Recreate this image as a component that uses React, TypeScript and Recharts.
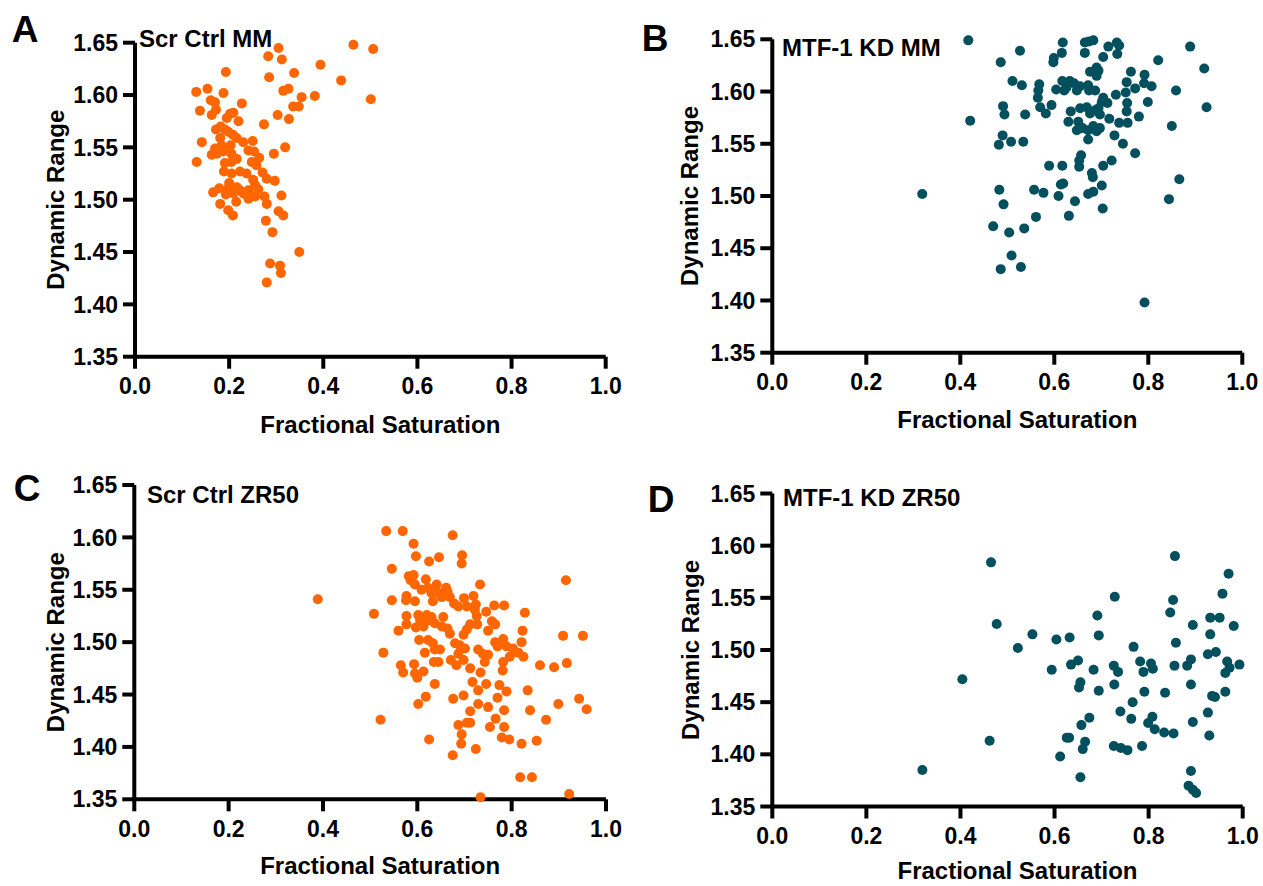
import React from "react";
import { ScatterChart, Scatter, XAxis, YAxis, Label } from "recharts";

// fractional saturation vs dynamic range
const scrCtrlMM: [number, number][] = [
  [0.305, 1.645], [0.283, 1.637], [0.312, 1.634], [0.464, 1.648], [0.506, 1.644], [0.394, 1.629],
  [0.338, 1.621], [0.193, 1.622], [0.285, 1.617], [0.438, 1.614], [0.501, 1.596], [0.13, 1.603],
  [0.154, 1.606], [0.188, 1.602], [0.315, 1.604], [0.326, 1.606], [0.382, 1.599], [0.354, 1.598],
  [0.336, 1.589], [0.348, 1.589], [0.161, 1.595], [0.17, 1.593], [0.138, 1.585], [0.227, 1.592],
  [0.172, 1.586], [0.163, 1.581], [0.202, 1.582], [0.209, 1.583], [0.195, 1.578], [0.22, 1.575],
  [0.303, 1.581], [0.327, 1.577], [0.274, 1.572], [0.172, 1.567], [0.182, 1.57], [0.191, 1.567],
  [0.181, 1.559], [0.198, 1.565], [0.208, 1.562], [0.216, 1.559], [0.142, 1.555], [0.17, 1.549],
  [0.184, 1.552], [0.203, 1.552], [0.23, 1.555], [0.25, 1.556], [0.163, 1.543], [0.174, 1.544],
  [0.188, 1.546], [0.205, 1.544], [0.216, 1.539], [0.241, 1.547], [0.253, 1.546], [0.264, 1.54],
  [0.131, 1.536], [0.191, 1.535], [0.205, 1.536], [0.248, 1.536], [0.258, 1.533], [0.189, 1.527],
  [0.205, 1.525], [0.223, 1.527], [0.237, 1.525], [0.271, 1.526], [0.28, 1.52], [0.297, 1.518],
  [0.251, 1.519], [0.255, 1.514], [0.262, 1.51], [0.2, 1.516], [0.216, 1.512], [0.223, 1.509],
  [0.23, 1.506], [0.241, 1.509], [0.179, 1.511], [0.198, 1.511], [0.166, 1.507], [0.193, 1.505],
  [0.209, 1.506], [0.215, 1.498], [0.241, 1.501], [0.255, 1.503], [0.275, 1.503], [0.28, 1.496],
  [0.311, 1.504], [0.181, 1.496], [0.198, 1.49], [0.208, 1.485], [0.305, 1.489], [0.315, 1.485],
  [0.278, 1.48], [0.292, 1.469], [0.349, 1.45], [0.287, 1.439], [0.308, 1.437], [0.31, 1.43],
  [0.28, 1.421], [0.295, 1.544], [0.319, 1.55],
];

const kdMM: [number, number][] = [
  [0.417, 1.649], [0.486, 1.628], [0.491, 1.586], [0.494, 1.578], [0.421, 1.572], [0.49, 1.558],
  [0.482, 1.549], [0.319, 1.502], [0.483, 1.506], [0.492, 1.492], [0.47, 1.471], [0.486, 1.43],
  [0.618, 1.647], [0.665, 1.647], [0.674, 1.648], [0.683, 1.649], [0.715, 1.643], [0.733, 1.647],
  [0.738, 1.644], [0.734, 1.636], [0.889, 1.643], [0.527, 1.639], [0.616, 1.637], [0.665, 1.637],
  [0.599, 1.632], [0.598, 1.628], [0.704, 1.633], [0.821, 1.63], [0.919, 1.622], [0.676, 1.619],
  [0.69, 1.623], [0.694, 1.62], [0.69, 1.615], [0.763, 1.619], [0.792, 1.616], [0.511, 1.61],
  [0.531, 1.606], [0.568, 1.607], [0.566, 1.601], [0.565, 1.594], [0.57, 1.585], [0.594, 1.587],
  [0.582, 1.579], [0.617, 1.61], [0.633, 1.61], [0.604, 1.602], [0.621, 1.601], [0.626, 1.604],
  [0.642, 1.608], [0.648, 1.601], [0.655, 1.605], [0.672, 1.606], [0.674, 1.601], [0.687, 1.601],
  [0.704, 1.594], [0.701, 1.59], [0.713, 1.589], [0.731, 1.597], [0.754, 1.609], [0.752, 1.599],
  [0.755, 1.589], [0.754, 1.581], [0.772, 1.603], [0.791, 1.608], [0.807, 1.605], [0.799, 1.59],
  [0.859, 1.601], [0.924, 1.585], [0.538, 1.578], [0.655, 1.584], [0.635, 1.581], [0.669, 1.585],
  [0.676, 1.579], [0.687, 1.582], [0.694, 1.584], [0.697, 1.578], [0.717, 1.574], [0.63, 1.571],
  [0.651, 1.571], [0.66, 1.565], [0.672, 1.563], [0.683, 1.567], [0.69, 1.562], [0.697, 1.565],
  [0.672, 1.554], [0.648, 1.563], [0.738, 1.57], [0.756, 1.57], [0.78, 1.576], [0.85, 1.567],
  [0.508, 1.552], [0.534, 1.552], [0.728, 1.558], [0.746, 1.55], [0.772, 1.541], [0.657, 1.539],
  [0.653, 1.534], [0.653, 1.528], [0.589, 1.529], [0.617, 1.529], [0.704, 1.529], [0.722, 1.534],
  [0.68, 1.522], [0.682, 1.518], [0.619, 1.512], [0.614, 1.511], [0.701, 1.51], [0.557, 1.506],
  [0.577, 1.503], [0.609, 1.5], [0.683, 1.504], [0.672, 1.502], [0.644, 1.495], [0.844, 1.497],
  [0.866, 1.516], [0.703, 1.488], [0.561, 1.48], [0.631, 1.481], [0.504, 1.465], [0.536, 1.469],
  [0.509, 1.443], [0.529, 1.432], [0.792, 1.398],
];

const scrCtrlZR50: [number, number][] = [
  [0.389, 1.541], [0.534, 1.606], [0.569, 1.606], [0.675, 1.602], [0.592, 1.594], [0.597, 1.582],
  [0.625, 1.577], [0.646, 1.581], [0.695, 1.583], [0.694, 1.575], [0.546, 1.57], [0.582, 1.563],
  [0.592, 1.564], [0.586, 1.559], [0.595, 1.555], [0.618, 1.56], [0.623, 1.552], [0.609, 1.55],
  [0.641, 1.555], [0.661, 1.552], [0.664, 1.548], [0.645, 1.547], [0.63, 1.547], [0.577, 1.544],
  [0.576, 1.54], [0.546, 1.54], [0.595, 1.539], [0.633, 1.539], [0.652, 1.543], [0.669, 1.543],
  [0.678, 1.537], [0.699, 1.542], [0.719, 1.544], [0.724, 1.536], [0.733, 1.555], [0.687, 1.534],
  [0.705, 1.534], [0.722, 1.531], [0.746, 1.529], [0.763, 1.535], [0.784, 1.535], [0.508, 1.527],
  [0.577, 1.525], [0.602, 1.526], [0.62, 1.526], [0.63, 1.524], [0.606, 1.521], [0.623, 1.521],
  [0.655, 1.524], [0.577, 1.517], [0.597, 1.514], [0.613, 1.515], [0.637, 1.518], [0.652, 1.515],
  [0.664, 1.513], [0.669, 1.508], [0.56, 1.511], [0.712, 1.517], [0.705, 1.512], [0.698, 1.507],
  [0.726, 1.525], [0.727, 1.517], [0.75, 1.511], [0.758, 1.52], [0.765, 1.517], [0.828, 1.528],
  [0.823, 1.511], [0.604, 1.502], [0.623, 1.502], [0.633, 1.499], [0.637, 1.493], [0.648, 1.493],
  [0.616, 1.49], [0.68, 1.499], [0.69, 1.497], [0.701, 1.494], [0.687, 1.489], [0.729, 1.493],
  [0.739, 1.489], [0.75, 1.488], [0.743, 1.481], [0.765, 1.5], [0.782, 1.503], [0.77, 1.496],
  [0.789, 1.496], [0.803, 1.494], [0.814, 1.49], [0.825, 1.486], [0.821, 1.5], [0.796, 1.486],
  [0.782, 1.481], [0.781, 1.473], [0.86, 1.478], [0.89, 1.476], [0.917, 1.48], [0.909, 1.506],
  [0.951, 1.506], [0.915, 1.559], [0.528, 1.49], [0.565, 1.478], [0.57, 1.471], [0.593, 1.479],
  [0.595, 1.47], [0.6, 1.466], [0.613, 1.472], [0.635, 1.481], [0.645, 1.481], [0.671, 1.483],
  [0.683, 1.478], [0.698, 1.483], [0.712, 1.475], [0.734, 1.471], [0.746, 1.46], [0.717, 1.462],
  [0.729, 1.454], [0.637, 1.46], [0.618, 1.448], [0.602, 1.441], [0.676, 1.446], [0.698, 1.449],
  [0.774, 1.459], [0.789, 1.453], [0.77, 1.447], [0.834, 1.454], [0.729, 1.441], [0.75, 1.438],
  [0.712, 1.434], [0.784, 1.435], [0.839, 1.435], [0.899, 1.441], [0.943, 1.446], [0.959, 1.436],
  [0.766, 1.427], [0.784, 1.419], [0.754, 1.419], [0.873, 1.426], [0.522, 1.426], [0.687, 1.421],
  [0.705, 1.423], [0.712, 1.423], [0.694, 1.412], [0.625, 1.407], [0.693, 1.403], [0.675, 1.392],
  [0.724, 1.398], [0.779, 1.409], [0.795, 1.407], [0.821, 1.403], [0.853, 1.406], [0.818, 1.371],
  [0.843, 1.371], [0.734, 1.352], [0.922, 1.355],
];

const kdZR50: [number, number][] = [
  [0.465, 1.584], [0.477, 1.525], [0.404, 1.472], [0.462, 1.413], [0.319, 1.385], [0.522, 1.502],
  [0.553, 1.515], [0.604, 1.51], [0.632, 1.512], [0.594, 1.481], [0.635, 1.486], [0.65, 1.49],
  [0.655, 1.469], [0.652, 1.464], [0.674, 1.435], [0.657, 1.428], [0.631, 1.416], [0.626, 1.416],
  [0.665, 1.412], [0.66, 1.405], [0.612, 1.398], [0.655, 1.378], [0.683, 1.481], [0.691, 1.533],
  [0.694, 1.514], [0.694, 1.461], [0.728, 1.551], [0.726, 1.485], [0.735, 1.479], [0.727, 1.467],
  [0.74, 1.441], [0.726, 1.408], [0.741, 1.406], [0.755, 1.404], [0.786, 1.408], [0.763, 1.434],
  [0.766, 1.45], [0.768, 1.503], [0.782, 1.489], [0.805, 1.487], [0.809, 1.482], [0.789, 1.479],
  [0.791, 1.46], [0.808, 1.436], [0.799, 1.43], [0.813, 1.424], [0.833, 1.421], [0.853, 1.42],
  [0.835, 1.459], [0.855, 1.485], [0.858, 1.507], [0.846, 1.536], [0.852, 1.548], [0.856, 1.59],
  [0.882, 1.485], [0.89, 1.491], [0.89, 1.467], [0.894, 1.524], [0.894, 1.431], [0.89, 1.384],
  [0.885, 1.37], [0.894, 1.366], [0.901, 1.363], [0.926, 1.44], [0.929, 1.418], [0.931, 1.515],
  [0.931, 1.531], [0.951, 1.531], [0.926, 1.496], [0.943, 1.498], [0.957, 1.554], [0.97, 1.573],
  [0.981, 1.523], [0.935, 1.456], [0.941, 1.455], [0.963, 1.46], [0.967, 1.489], [0.972, 1.483],
  [0.963, 1.478], [0.993, 1.486],
];

const xTicks = [0, 0.2, 0.4, 0.6, 0.8, 1.0];
const yTicks = [1.35, 1.4, 1.45, 1.5, 1.55, 1.6, 1.65];

const ORANGE = "#ff6600";
const TEAL = "#024f5e";
const FONT = "'Liberation Sans', Arial, Helvetica, sans-serif";

// heavy black axes and ticks, set in css so nothing overrides them
const axisCss = `
svg .recharts-cartesian-axis-line,
svg .recharts-cartesian-axis-tick-line {
  stroke: #000 !important;
  stroke-width: 4px !important;
}
`;

const tickStyle = { fill: "#000", fontSize: 23, fontWeight: 700, fontFamily: FONT };

interface PanelProps {
  letter: string;
  title: string;
  data: [number, number][];
  color: string;
  left: number;
  top: number;
  width: number;
  height: number;
  plotTop: number;
  plotRight: number;
  yAxisWidth: number;
  xAxisHeight: number;
  xTitleOffset: number;
  yTitleOffset: number;
  letterPos: [number, number];
  titlePos: [number, number];
}

function Panel(p: PanelProps) {
  const points = p.data.map(([x, y]) => ({ x, y }));
  const dot = (props: any) => <circle cx={props.cx} cy={props.cy} r={5} fill={p.color} />;
  return (
    <>
      <div style={{ position: "absolute", left: p.left, top: p.top }}>
        <ScatterChart
          width={p.width}
          height={p.height}
          margin={{ top: p.plotTop, right: p.plotRight, bottom: 0, left: 0 }}
        >
          <XAxis
            type="number"
            dataKey="x"
            domain={[0, 1]}
            ticks={xTicks}
            tickFormatter={(v: number) => v.toFixed(1)}
            height={p.xAxisHeight}
            tickSize={12}
            tickMargin={9}
            stroke="#000"
            tick={tickStyle}
          >
            <Label
              value="Fractional Saturation"
              position="insideBottom"
              offset={p.xTitleOffset}
              dx={10}
              fill="#000"
              fontSize={24}
              fontWeight={700}
              fontFamily={FONT}
            />
          </XAxis>
          <YAxis
            type="number"
            dataKey="y"
            domain={[1.35, 1.65]}
            ticks={yTicks}
            tickFormatter={(v: number) => v.toFixed(2)}
            width={p.yAxisWidth}
            tickSize={12}
            tickMargin={5}
            stroke="#000"
            tick={tickStyle}
            interval={0}
          >
            <Label
              value="Dynamic Range"
              angle={-90}
              position="insideLeft"
              offset={p.yTitleOffset}
              fill="#000"
              fontSize={24}
              fontWeight={700}
              fontFamily={FONT}
              style={{ textAnchor: "middle" }}
            />
          </YAxis>
          <Scatter data={points} fill={p.color} shape={dot} isAnimationActive={false} />
        </ScatterChart>
      </div>
      <div
        style={{
          position: "absolute",
          left: p.letterPos[0],
          top: p.letterPos[1],
          transform: "translate(-50%, -50%)",
          fontFamily: FONT,
          fontWeight: 700,
          fontSize: 37,
          lineHeight: 1,
        }}
      >
        {p.letter}
      </div>
      <div
        style={{
          position: "absolute",
          left: p.titlePos[0],
          top: p.titlePos[1],
          fontFamily: FONT,
          fontWeight: 700,
          fontSize: 24,
          lineHeight: "24px",
          whiteSpace: "nowrap",
        }}
      >
        {p.title}
      </div>
    </>
  );
}

export default function App() {
  return (
    <div
      style={{
        position: "absolute",
        left: 0,
        top: 0,
        width: 1263,
        height: 886,
        background: "#fff",
        overflow: "hidden",
      }}
    >
      <style>{axisCss}</style>
      <Panel
        letter="A"
        title="Scr Ctrl MM"
        data={scrCtrlMM}
        color={ORANGE}
        left={0}
        top={0}
        width={630}
        height={445}
        plotTop={42.7}
        plotRight={24.3}
        yAxisWidth={135}
        xAxisHeight={88.3}
        xTitleOffset={12}
        yTitleOffset={55}
        letterPos={[25, 29]}
        titlePos={[139, 26.7]}
      />
      <Panel
        letter="B"
        title="MTF-1 KD MM"
        data={kdMM}
        color={TEAL}
        left={640}
        top={0}
        width={623}
        height={445}
        plotTop={39.3}
        plotRight={20.7}
        yAxisWidth={132.3}
        xAxisHeight={92.3}
        xTitleOffset={17}
        yTitleOffset={49}
        letterPos={[655, 38]}
        titlePos={[782, 35.7]}
      />
      <Panel
        letter="C"
        title="Scr Ctrl ZR50"
        data={scrCtrlZR50}
        color={ORANGE}
        left={0}
        top={445}
        width={630}
        height={441}
        plotTop={40}
        plotRight={24}
        yAxisWidth={134.3}
        xAxisHeight={86.7}
        xTitleOffset={12}
        yTitleOffset={55}
        letterPos={[27, 488]}
        titlePos={[147, 482.7]}
      />
      <Panel
        letter="D"
        title="MTF-1 KD ZR50"
        data={kdZR50}
        color={TEAL}
        left={640}
        top={445}
        width={623}
        height={441}
        plotTop={48.5}
        plotRight={20.3}
        yAxisWidth={132.3}
        xAxisHeight={79.5}
        xTitleOffset={7}
        yTitleOffset={50}
        letterPos={[661, 499]}
        titlePos={[783, 485.7]}
      />
    </div>
  );
}
